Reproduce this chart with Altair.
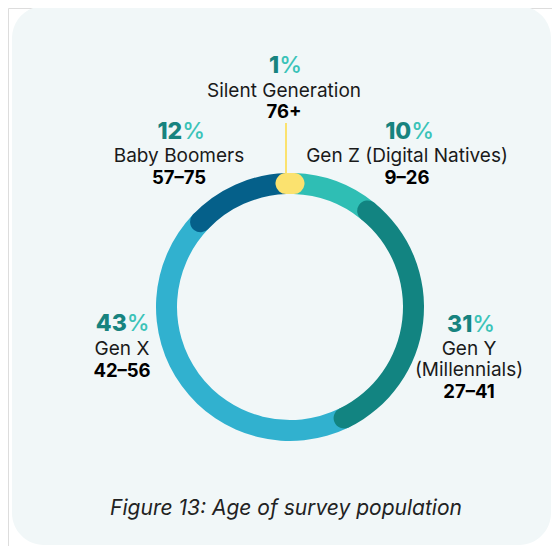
import math
import altair as alt
import pandas as pd

# ---- data ----
generations = ["Silent Generation", "Gen Z (Digital Natives)", "Gen Y (Millennials)", "Gen X", "Baby Boomers"]
shares = [1, 10, 31, 43, 12]
age_ranges = ["76+", "9–26", "27–41", "42–56", "57–75"]
display_names = ["Silent Generation", "Gen Z (Digital Natives)", "Gen Y\n(Millennials)", "Gen X", "Baby Boomers"]
caption = "Figure 13: Age of survey population"

# ---- style ----
seg_colors = ["#fbe26f", "#2fbeb4", "#128481", "#31b1cf", "#05608a"]
z_order = [5, 1, 3, 2, 4]          # later = drawn on top
BG = "#f1f7f8"
PCT_NUM = "#17837f"
PCT_SIGN = "#3bc3b8"
FONT = "Inter"

W, H = 544, 538
CX, CY = 282, 299
R_OUT, R_IN = 134, 113
CAP = (R_OUT - R_IN) / 2

# label layout (chart px): centres and baselines
label_x = [276, 399, 461, 114, 171]
pct_x = [274.5, 399.5, 460.5, 113, 170.5]
pct_y = [65, 131, 324, 323, 131]
name_y = [88.5, 154, 347, 347, 154]
age_y = [110, 176, 390, 369, 176]

total = sum(shares)
pad = CAP / ((R_OUT + R_IN) / 2) * total / (2 * math.pi)
starts, ends = [], []
acc = -shares[0] / 2
for s in shares:
    starts.append(acc - pad)
    ends.append(acc + s + pad)
    acc += s

seg = pd.DataFrame({
    "gen": generations, "t0": starts, "t1": ends, "z": z_order,
}).sort_values("z")

color_scale = alt.Scale(domain=generations, range=seg_colors)

bg = alt.Chart(pd.DataFrame({"a": [0]})).mark_rect(
    color=BG, cornerRadius=32
).encode(x=alt.value(4), x2=alt.value(W - 1), y=alt.value(-2), y2=alt.value(H - 1))

leader = alt.Chart(pd.DataFrame({"a": [0]})).mark_rule(
    color=seg_colors[0], strokeWidth=2
).encode(x=alt.value(CX - 4), y=alt.value(115), y2=alt.value(CY - R_OUT + 5))

ring = alt.Chart(seg).mark_arc(radius=R_OUT, radius2=R_IN, cornerRadius=CAP).encode(
    theta=alt.Theta("t0:Q", scale=alt.Scale(domain=[0, total], nice=False, zero=False), stack=None),
    theta2="t1:Q",
    color=alt.Color("gen:N", scale=color_scale, legend=None),
    order=alt.Order("z:Q"),
    x=alt.value(CX), y=alt.value(CY),
)

PSIZE = 23
lab = pd.DataFrame({
    "num": [str(s) for s in shares],
    "pct": ["%"] * len(shares),
    "name": display_names,
    "age": age_ranges,
    "cx": label_x, "px": pct_x,
    "py": pct_y, "ny": name_y, "ay": age_y,
})
digit_w = lab["num"].apply(lambda t: sum(0.45 if c == "1" else 0.62 for c in t)) * PSIZE
lab["bx"] = lab["px"] + (digit_w - 0.74 * PSIZE) / 2

xs = lambda f: alt.X(f, scale=None, axis=None)
ys = lambda f: alt.Y(f, scale=None, axis=None)

num_t = alt.Chart(lab).mark_text(
    font=FONT, fontSize=PSIZE, fontWeight=800, color=PCT_NUM, align="right", baseline="alphabetic"
).encode(x=xs("bx:Q"), y=ys("py:Q"), text="num:N")
sign_t = alt.Chart(lab).mark_text(
    font=FONT, fontSize=PSIZE, fontWeight=500, color=PCT_SIGN, align="left", baseline="alphabetic"
).encode(x=xs("bx:Q"), y=ys("py:Q"), text="pct:N")
name_t = alt.Chart(lab).mark_text(
    font=FONT, fontSize=19, fontWeight=400, color="#1a1a1a", align="center", baseline="alphabetic",
    lineBreak="\n", lineHeight=21
).encode(x=xs("cx:Q"), y=ys("ny:Q"), text="name:N")
age_t = alt.Chart(lab).mark_text(
    font=FONT, fontSize=18.5, fontWeight=700, color="#000000", align="center", baseline="alphabetic"
).encode(x=xs("cx:Q"), y=ys("ay:Q"), text="age:N")

cap_t = alt.Chart(pd.DataFrame({"t": [caption]})).mark_text(
    font=FONT, fontSize=21, fontStyle="italic", color="#222222", align="center", baseline="alphabetic"
).encode(x=alt.value(278), y=alt.value(507), text="t:N")

chart = alt.layer(bg, leader, ring, num_t, sign_t, name_t, age_t, cap_t).properties(
    width=W, height=H, autosize=alt.AutoSizeParams(type="none"), padding=0
).configure_view(stroke=None).configure(background="white")

chart.save("out.html", embed_options={"renderer": "svg", "actions": False})
